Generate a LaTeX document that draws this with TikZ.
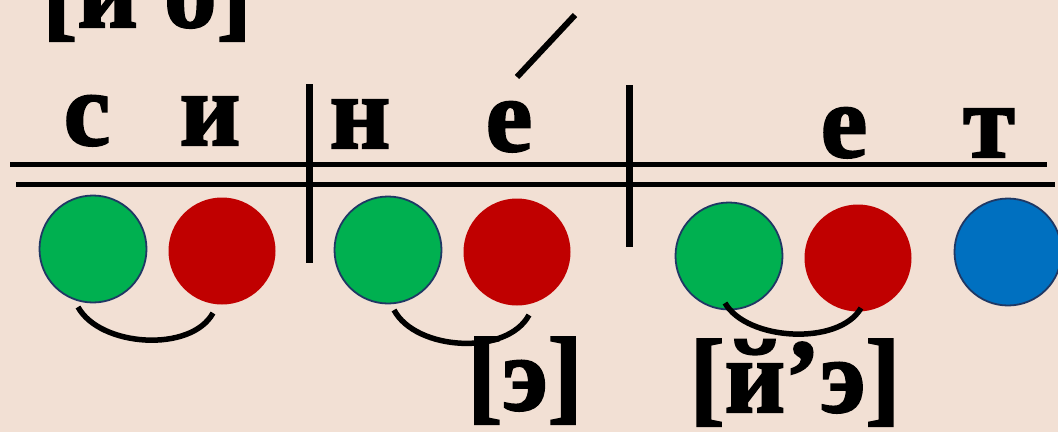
\documentclass[tikz,border=0pt]{standalone}
\usepackage{fontspec}
\setmainfont{Liberation Serif}
\newfontfamily\heavyserif{Liberation Serif Bold}[FakeBold=2]
\usetikzlibrary{calc}
\definecolor{bg}{HTML}{F2E0D4}
\definecolor{vgreen}{HTML}{00B050}
\definecolor{vred}{HTML}{C00000}
\definecolor{vblue}{HTML}{0070C0}
\definecolor{rim}{HTML}{1F3864}
\tikzset{
  letter/.style={font=\heavyserif\fontsize{105}{120}\selectfont, inner sep=0pt, anchor=base},
  snd/.style={circle, minimum size=107pt, inner sep=0pt},
  vow/.style={snd, fill=vred},
  cons/.style={snd, fill=vgreen, draw=rim, line width=1.8pt},
  hard/.style={snd, fill=vblue, draw=rim, line width=1.8pt},
  rule/.style={line width=5pt},
  bar/.style={line width=7pt},
  link/.style={line width=5.5pt}
}
\begin{document}
\begin{tikzpicture}[x=1pt,y=-1pt]
\useasboundingbox[fill=bg] (0,0) rectangle (1058,432);
% top transcription
\node[letter] (tr1) at (147,27) {[и о]};
% letters
\node[letter] (l1) at (87,145) {с};
\node[letter] (l2) at (210,145) {и};
\node[letter] (l3) at (360,148) {н};
\node[letter] (l4) at (509,151) {е};
\node[letter] (l5) at (844,157) {е};
\node[letter] (l6) at (989,157) {т};
% stress mark
\coordinate (s1) at (517,77);
\coordinate (s2) at (575,15);
\draw[line width=6pt] (s1) -- (s2);
% rules
\coordinate (h1a) at (10,164); \coordinate (h1b) at (1047,164);
\coordinate (h2a) at (16,184); \coordinate (h2b) at (1055,184);
\draw[rule] (h1a) -- (h1b);
\draw[rule] (h2a) -- (h2b);
\coordinate (v1a) at (309,84); \coordinate (v1b) at (309,263);
\coordinate (v2a) at (629,85); \coordinate (v2b) at (629,247);
\draw[bar] (v1a) -- (v1b);
\draw[bar] (v2a) -- (v2b);
% circles
\node[cons] (g1) at (93,249) {};
\node[vow]  (r1) at (222,251) {};
\node[cons] (g2) at (388,250) {};
\node[vow]  (r2) at (517,252) {};
\node[cons] (g3) at (729,256) {};
\node[vow]  (r3) at (858,258) {};
\node[hard] (b3) at (1008,252) {};
% links
\coordinate (a1s) at ($(g1.center)+(-15,58)$);
\coordinate (a1e) at ($(r1.center)+(-9,62)$);
\draw[link] (a1s) .. controls ($(a1s)+(22,40)$) and ($(a1e)+(-22,40)$) .. (a1e);
\coordinate (a2s) at ($(g2.center)+(6,60)$);
\coordinate (a2e) at ($(r2.center)+(12,63)$);
\draw[link] (a2s) .. controls ($(a2s)+(22,41)$) and ($(a2e)+(-22,41)$) .. (a2e);
\coordinate (a3s) at ($(g3.center)+(-4,47)$);
\coordinate (a3e) at ($(r3.center)+(3,50)$);
\draw[link] (a3s) .. controls ($(a3s)+(22,38)$) and ($(a3e)+(-22,38)$) .. (a3e);
% transcriptions
\node[letter] (t2) at (525,410) {[э]};
\node[letter] (t3) at (795,412) {[й’э]};
\end{tikzpicture}
\end{document}
